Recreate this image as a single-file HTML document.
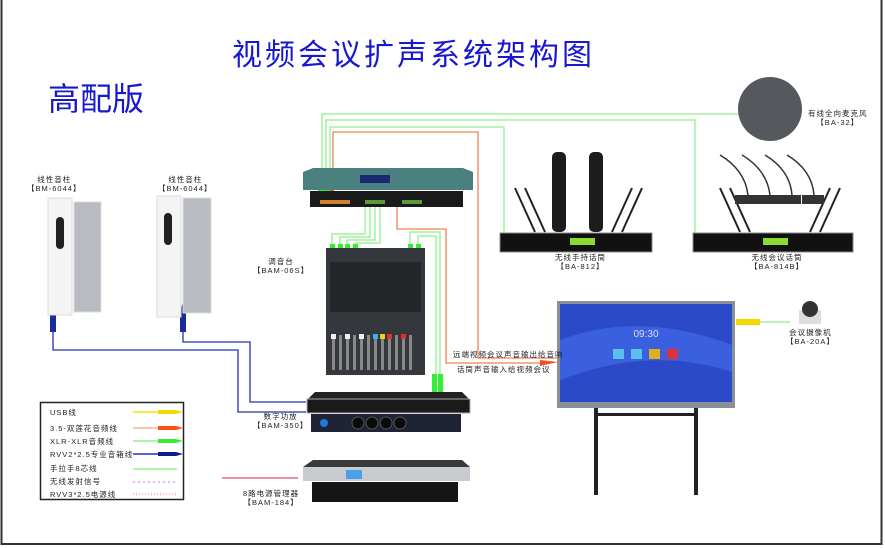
<!DOCTYPE html>
<html><head><meta charset="utf-8"><style>
body{margin:0;width:885px;height:548px;background:#fff;position:relative;overflow:hidden;font-family:"Liberation Sans","Noto Sans CJK SC",sans-serif}
.a{position:absolute}
.lbl{position:absolute;font-size:7.5px;color:#222;text-align:center;letter-spacing:1px;line-height:9px;white-space:nowrap}
</style></head><body>
<svg class="a" style="left:0;top:0" width="885" height="548">
<rect x="1.5" y="-2" width="880" height="546" fill="none" stroke="#333" stroke-width="2"/>
<g fill="none" stroke="#8ef08e" stroke-width="1.3">
<polyline points="322,170 322,114 740,114"/>
<polyline points="326,170 326,120 695,120 695,234"/>
<polyline points="330,170 330,127 504,127 504,234"/>
<polyline points="365,207 365,234 332,234 332,248"/>
<polyline points="370,207 370,237 340,237 340,248"/>
<polyline points="375,207 375,240 347,240 347,248"/>
<polyline points="380,207 380,243 355,243 355,248"/>
<polyline points="410,250 410,232 440,232 440,385"/>
<polyline points="418,250 418,236 436,236 436,385"/>
<polyline points="736,322 790,322"/>
</g>
<g fill="none" stroke="#f08050" stroke-width="1.3">
<polyline points="333,170 333,132 478,132 478,358 558,358"/>
<polyline points="397,207 397,229 446,229 446,363 545,363"/>
</g>
<polygon points="540,360 558,362 540,366" fill="#f05020"/>
<g fill="none" stroke="#2230b0" stroke-width="1.3">
<polyline points="53,320 53,350 238,350 238,412 306,412"/>
<polyline points="183,320 183,342 250,342 250,402 306,402"/>
</g>
<path d="M50,310 L53,300 L56,310 L56,332 L50,332Z" fill="#1a2a9a"/>
<path d="M180,312 L183,302 L186,312 L186,332 L180,332Z" fill="#1a2a9a"/>
<g fill="#33ee33">
<rect x="318" y="180" width="6" height="14"/><rect x="324" y="180" width="6" height="14"/><rect x="330" y="180" width="4" height="14" fill="#ee5522"/>
<rect x="330" y="244" width="5" height="14"/><rect x="338" y="244" width="5" height="14"/><rect x="345" y="244" width="5" height="14"/><rect x="353" y="244" width="5" height="14"/>
<rect x="408" y="244" width="5" height="14"/><rect x="416" y="244" width="5" height="14"/>
<rect x="432" y="374" width="5" height="20"/><rect x="438" y="374" width="5" height="20"/>
</g>
<polygon points="736,319 760,319 760,325 736,325" fill="#f5d800"/>
<line x1="222" y1="478" x2="298" y2="478" stroke="#e890a0" stroke-width="2"/>
<rect x="40.5" y="402.5" width="143" height="97" fill="#fff" stroke="#222" stroke-width="1.5"/>
<line x1="133" y1="412" x2="158" y2="412" stroke="#f5e600" stroke-width="1.5"/><polygon points="158,410 176,410 183,412 176,414 158,414" fill="#f5d800"/>
<line x1="133" y1="428" x2="158" y2="428" stroke="#ffb090" stroke-width="1.5"/><polygon points="158,426 176,426 183,428 176,430 158,430" fill="#ff5010"/>
<line x1="133" y1="441" x2="158" y2="441" stroke="#90f090" stroke-width="1.5"/><polygon points="158,439 176,439 183,441 176,443 158,443" fill="#33ee33"/>
<line x1="133" y1="454" x2="158" y2="454" stroke="#2030c0" stroke-width="1.5"/><polygon points="158,452 176,452 183,454 176,456 158,456" fill="#0a1a90"/>
<line x1="133" y1="469" x2="177" y2="469" stroke="#66ee66" stroke-width="1"/>
<line x1="133" y1="482" x2="177" y2="482" stroke="#d8a0f8" stroke-width="1.5" stroke-dasharray="2,3"/>
<line x1="133" y1="494" x2="177" y2="494" stroke="#f8a0b8" stroke-width="1.5" stroke-dasharray="1,2"/>
<circle cx="770" cy="109" r="32" fill="#55585d"/>
<path d="M303,172 L313,168 L463,168 L473,172 L473,190 L303,190Z" fill="#4a8080"/>
<rect x="360" y="175" width="30" height="8" fill="#1a2a70"/>
<rect x="310" y="191" width="153" height="16" fill="#1a1a1a"/>
<rect x="320" y="200" width="30" height="4" fill="#d08030"/><rect x="365" y="200" width="20" height="4" fill="#5a9a3a"/><rect x="402" y="200" width="20" height="4" fill="#5a9a3a"/>
<rect x="326" y="248" width="99" height="127" fill="#34373b"/>
<rect x="330" y="262" width="91" height="50" fill="#24272a"/>
<g fill="#888"><rect x="332" y="335" width="3" height="35"/><rect x="339" y="335" width="3" height="35"/><rect x="346" y="335" width="3" height="35"/><rect x="353" y="335" width="3" height="35"/><rect x="360" y="335" width="3" height="35"/><rect x="367" y="335" width="3" height="35"/><rect x="374" y="335" width="3" height="35"/><rect x="381" y="335" width="3" height="35"/><rect x="388" y="335" width="3" height="35"/><rect x="395" y="335" width="3" height="35"/><rect x="402" y="335" width="3" height="35"/><rect x="409" y="335" width="3" height="35"/></g>
<g><rect x="331" y="334" width="5" height="5" fill="#eee"/><rect x="345" y="334" width="5" height="5" fill="#eee"/><rect x="359" y="334" width="5" height="5" fill="#eee"/><rect x="373" y="334" width="5" height="5" fill="#3ab0f0"/><rect x="380" y="334" width="5" height="5" fill="#f0d020"/><rect x="387" y="334" width="5" height="5" fill="#e03030"/><rect x="401" y="334" width="5" height="5" fill="#e03030"/></g>
<path d="M307,400 L315,392 L462,392 L470,400 L470,413 L307,413Z" fill="#222"/>
<rect x="307" y="399" width="163" height="14" fill="#1a1a1a" stroke="#aaa"/>
<rect x="311" y="414" width="150" height="18" fill="#1e2433"/>
<g fill="#0a0a0a" stroke="#555"><circle cx="358" cy="423" r="6"/><circle cx="372" cy="423" r="6"/><circle cx="386" cy="423" r="6"/><circle cx="400" cy="423" r="6"/></g>
<circle cx="324" cy="423" r="4" fill="#2277dd"/>
<path d="M303,467 L313,460 L462,460 L470,467 L470,481 L303,481Z" fill="#3a3a3a"/>
<rect x="303" y="467" width="167" height="14" fill="#c8ccd0"/>
<rect x="346" y="470" width="16" height="9" fill="#4aa0ea"/>
<rect x="312" y="482" width="146" height="20" fill="#151515"/>
<g stroke="#222" stroke-width="2"><line x1="515" y1="188" x2="535" y2="232"/><line x1="525" y1="188" x2="545" y2="232"/><line x1="612" y1="232" x2="632" y2="188"/><line x1="622" y1="232" x2="642" y2="188"/>
<line x1="720" y1="188" x2="740" y2="232"/><line x1="730" y1="188" x2="750" y2="232"/><line x1="810" y1="232" x2="830" y2="188"/><line x1="820" y1="232" x2="840" y2="188"/></g>
<rect x="552" y="152" width="14" height="80" rx="5" fill="#1c1c1c"/><rect x="589" y="152" width="14" height="80" rx="5" fill="#1c1c1c"/>
<rect x="500" y="233" width="152" height="19" fill="#111" stroke="#888"/>
<rect x="570" y="238" width="25" height="7" fill="#8edb30"/>
<rect x="693" y="233" width="160" height="19" fill="#111" stroke="#888"/>
<rect x="763" y="238" width="25" height="7" fill="#8edb30"/>
<g fill="#333"><rect x="735" y="195" width="22" height="9"/><rect x="757" y="195" width="22" height="9"/><rect x="779" y="195" width="22" height="9"/><rect x="802" y="195" width="22" height="9"/></g>
<g stroke="#333" stroke-width="1.5" fill="none"><path d="M720,155 Q745,170 748,195"/><path d="M742,155 Q767,170 770,195"/><path d="M765,155 Q790,170 792,195"/><path d="M787,155 Q812,170 814,195"/></g>
<rect x="557" y="301" width="178" height="107" fill="#8a9098"/>
<rect x="560" y="304" width="172" height="98" fill="#2a4ac8"/>
<path d="M560,340 Q640,310 732,345 L732,372 Q650,345 560,380Z" fill="#3a60e0"/>
<text x="646" y="337" font-size="10" fill="#dde" text-anchor="middle" font-family="Liberation Sans">09:30</text>
<rect x="613" y="349" width="11" height="10" fill="#5ac0f0"/><rect x="631" y="349" width="11" height="10" fill="#5ac0f0"/><rect x="649" y="349" width="11" height="10" fill="#e0b020"/><rect x="667" y="349" width="11" height="10" fill="#e03040"/>
<g fill="#222"><rect x="594" y="408" width="4" height="87"/><rect x="694" y="408" width="4" height="87"/><rect x="594" y="413" width="104" height="3"/></g>
<rect x="799" y="310" width="22" height="14" fill="#ddd"/><circle cx="810" cy="309" r="8" fill="#333"/>
<rect x="48" y="198" width="24" height="117" fill="#f4f4f4" stroke="#ddd"/><rect x="74" y="202" width="27" height="110" fill="#b8bcc0" stroke="#ddd"/>
<rect x="56" y="217" width="8" height="32" rx="4" fill="#222"/>
<rect x="157" y="196" width="24" height="121" fill="#f4f4f4" stroke="#ddd"/><rect x="183" y="198" width="28" height="115" fill="#b8bcc0" stroke="#ddd"/>
<rect x="164" y="213" width="8" height="32" rx="4" fill="#222"/>
</svg>
<div class="a" style="left:232px;top:30px;font-size:30px;color:#1818d0;letter-spacing:3px">视频会议扩声系统架构图</div>
<div class="a" style="left:48px;top:74px;font-size:32px;color:#1818d0">高配版</div>
<div class="lbl" style="left:27px;top:175px">线性音柱<br>【BM-6044】</div>
<div class="lbl" style="left:158px;top:175px">线性音柱<br>【BM-6044】</div>
<div class="lbl" style="left:253px;top:257px">调音台<br>【BAM-06S】</div>
<div class="lbl" style="left:253px;top:412px">数字功放<br>【BAM-350】</div>
<div class="lbl" style="left:243px;top:489px">8路电源管理器<br>【BAM-184】</div>
<div class="lbl" style="left:555px;top:253px">无线手持话筒<br>【BA-812】</div>
<div class="lbl" style="left:750px;top:253px">无线会议话筒<br>【BA-814B】</div>
<div class="lbl" style="left:808px;top:109px">有线全向麦克风<br>【BA-32】</div>
<div class="lbl" style="left:786px;top:328px">会议摄像机<br>【BA-20A】</div>
<div class="lbl" style="left:453px;top:350px;font-size:7.5px">远端视频会议声音输出给音响</div>
<div class="lbl" style="left:457px;top:365px;font-size:7.5px">话筒声音输入给视频会议</div>
<div class="lbl" style="left:50px;top:408px;text-align:left">USB线</div>
<div class="lbl" style="left:50px;top:424px;text-align:left">3.5-双莲花音频线</div>
<div class="lbl" style="left:50px;top:437px;text-align:left">XLR-XLR音频线</div>
<div class="lbl" style="left:50px;top:450px;text-align:left">RVV2*2.5专业音箱线</div>
<div class="lbl" style="left:50px;top:464px;text-align:left">手拉手8芯线</div>
<div class="lbl" style="left:50px;top:477px;text-align:left">无线发射信号</div>
<div class="lbl" style="left:50px;top:490px;text-align:left">RVV3*2.5电源线</div>
</body></html>
